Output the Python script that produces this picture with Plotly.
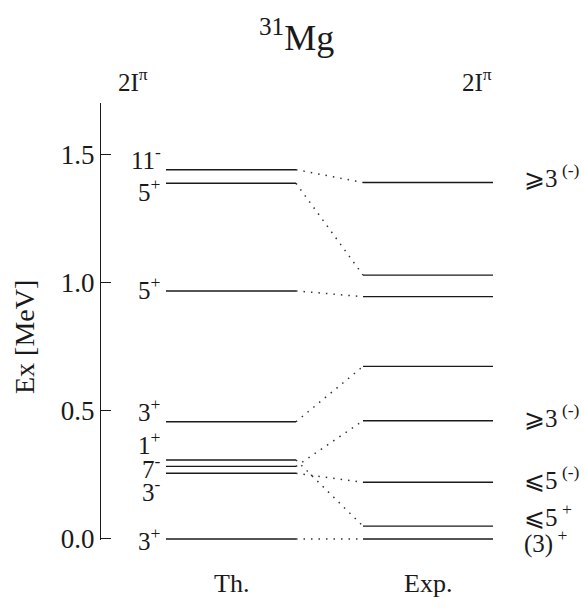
import plotly.graph_objects as go

# Level energies (MeV) and spin-parity labels (2I^pi) for 31Mg
th_energy = [0.0, 0.256, 0.283, 0.308, 0.457, 0.967, 1.387, 1.440]
th_label = ["3<sup>+</sup>", "3<sup>-</sup>", "7<sup>-</sup>", "1<sup>+</sup>",
            "3<sup>+</sup>", "5<sup>+</sup>", "5<sup>+</sup>", "11<sup>-</sup>"]

exp_energy = [0.0, 0.050, 0.221, 0.461, 0.673, 0.945, 1.029, 1.390]
exp_label = ["(3)<sup> +</sup>", "⩽5<sup> +</sup>", "⩽5<sup> (-)</sup>", "⩾3<sup> (-)</sup>",
             "", "", "", "⩾3<sup> (-)</sup>"]

# theory level index -> experimental level index
links = [(0, 0), (1, 2), (2, 3), (3, 1), (4, 4), (5, 5), (6, 6), (7, 7)]

y_ticks = [0.0, 0.5, 1.0, 1.5]
column_names = ["Th.", "Exp."]

# ---- layout constants (x in screen-like units, label shifts in MeV) ----
Y_MIN, Y_MAX = -0.004, 1.70
X_MIN, X_MAX = 101, 586
TH_X = (166, 296)
EXP_X = (363, 493)
th_label_shift = [-0.002, -0.066, -0.004, 0.068, 0.046, 0.013, -0.027, 0.044]
exp_label_shift = [-0.008, 0.044, 0.017, 0.018, 0, 0, 0, 0.026]

FONT = "Liberation Serif"
INK = "#1a1a1a"


def px(x):
    """horizontal position (screen-like units) -> paper fraction"""
    return (x - X_MIN) / (X_MAX - X_MIN)


def ey(e):
    """energy (MeV) -> paper fraction"""
    return (e - Y_MIN) / (Y_MAX - Y_MIN)


def sy(y):
    """vertical screen row -> paper fraction (plot spans rows 103..540)"""
    return (540 - y) / (540 - 103)


fig = go.Figure()


def level_trace(energies, xspan):
    xs, ys = [], []
    for e in energies:
        xs += [xspan[0], xspan[1], None]
        ys += [e, e, None]
    return go.Scatter(x=xs, y=ys, mode="lines", line=dict(color=INK, width=1.4),
                      hoverinfo="skip", showlegend=False)


fig.add_trace(level_trace(th_energy, TH_X))
fig.add_trace(level_trace(exp_energy, EXP_X))

cx, cy = [], []
for i, j in links:
    cx += [TH_X[1], EXP_X[0], None]
    cy += [th_energy[i], exp_energy[j], None]
fig.add_trace(go.Scatter(x=cx, y=cy, mode="lines",
                         line=dict(color="#333333", width=1.5, dash="1.5px,6px"),
                         hoverinfo="skip", showlegend=False))

LABEL_FONT = dict(size=25, family=FONT, color=INK)
ann = []
for e, lab, s in zip(th_energy, th_label, th_label_shift):
    ann.append(dict(x=px(163), y=ey(e + s), xref="paper", yref="paper", text=lab,
                    showarrow=False, xanchor="right", yanchor="middle", font=LABEL_FONT))
for e, lab, s in zip(exp_energy, exp_label, exp_label_shift):
    if lab:
        ann.append(dict(x=px(522), y=ey(e + s), xref="paper", yref="paper", text=lab,
                        showarrow=False, xanchor="left", yanchor="middle", font=LABEL_FONT))

# column names
for name, span in zip(column_names, [TH_X, EXP_X]):
    ann.append(dict(x=px((span[0] + span[1]) / 2), y=sy(583), xref="paper", yref="paper",
                    text=name, showarrow=False, xanchor="center", yanchor="middle",
                    font=dict(size=26, family=FONT, color=INK)))

# headers
ann.append(dict(x=px(296), y=sy(35), xref="paper", yref="paper", text="<sup>31</sup>Mg",
                showarrow=False, xanchor="center", yanchor="middle",
                font=dict(size=36, family=FONT, color=INK)))
for xh in (133, 477):
    ann.append(dict(x=px(xh), y=sy(80), xref="paper", yref="paper", text="2I<sup>π</sup>",
                    showarrow=False, xanchor="center", yanchor="middle",
                    font=dict(size=25, family=FONT, color=INK)))

# axis title
ann.append(dict(x=px(24), y=sy(337), xref="paper", yref="paper", text="Ex [MeV]",
                showarrow=False, textangle=-90, xanchor="center", yanchor="middle",
                font=dict(size=28, family=FONT, color=INK)))

fig.update_layout(
    width=586, height=609,
    margin=dict(l=101, r=0, t=103, b=69),
    paper_bgcolor="white", plot_bgcolor="white",
    annotations=ann,
    xaxis=dict(range=[X_MIN, X_MAX], visible=False, fixedrange=True),
    yaxis=dict(range=[Y_MIN, Y_MAX], showline=True, linecolor=INK, linewidth=1.2,
               showgrid=False, zeroline=False, ticks="inside", ticklen=10, tickwidth=1.2,
               tickcolor=INK, tickvals=y_ticks, tickformat=".1f",
               tickfont=dict(size=27, family=FONT, color=INK), fixedrange=True),
)

fig.write_html("out.html")
